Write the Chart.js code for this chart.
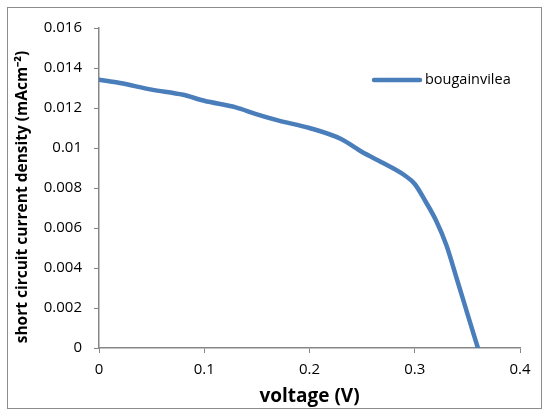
<!DOCTYPE html>
<html>
<head>
<meta charset="utf-8">
<script src="https://cdn.jsdelivr.net/npm/chart.js@4"></script>
<style>
  html, body { margin: 0; padding: 0; background: #fff; }
  #wrap { width: 548px; height: 411px; position: relative; }
</style>
</head>
<body>
<div id="wrap"><canvas id="jscChart" width="548" height="411"></canvas></div>
<script>
// J-V curve data
const seriesName = "bougainvilea";
const voltage = [0, 0.02, 0.05, 0.08, 0.1, 0.13, 0.15, 0.17, 0.2, 0.23, 0.25, 0.27, 0.29, 0.3, 0.31, 0.32, 0.33, 0.34, 0.35, 0.36];
const currentDensity = [0.01342, 0.01325, 0.01292, 0.01266, 0.01236, 0.01203, 0.01168, 0.01138, 0.01100, 0.01045, 0.00980, 0.00925, 0.00865, 0.00820, 0.00735, 0.00640, 0.00515, 0.00345, 0.00172, 0];
const xTickValues = [0, 0.1, 0.2, 0.3, 0.4];
const yTickValues = [0, 0.002, 0.004, 0.006, 0.008, 0.01, 0.012, 0.014, 0.016];
const xTitle = "voltage (V)";
const yTitle = "short circuit current density (mAcm⁻²)";

const AXIS_GRAY = "#868686";
const LINE_BLUE = "#4a7ebb";

/* Outer frame, y title and legend drawn by a small plugin */
const framePlugin = {
  id: "frame",
  beforeDraw(chart) {
    const ctx = chart.ctx;
    ctx.save();
    ctx.fillStyle = "#fff";
    ctx.fillRect(0, 0, chart.width, chart.height);
    ctx.strokeStyle = "#8c8c8c";
    ctx.lineWidth = 1;
    ctx.strokeRect(7.5, 7.5, 534, 401);
    ctx.restore();
  },
  afterDraw(chart) {
    const ctx = chart.ctx;
    const ds = chart.data.datasets[0];
    ctx.save();
    // y axis title (sits a little below the plot centre in the original)
    ctx.translate(23, 197);
    ctx.rotate(-Math.PI / 2);
    ctx.fillStyle = "#000";
    ctx.font = "bold 15.5px 'Open Sans'";
    ctx.textAlign = "center";
    ctx.textBaseline = "middle";
    ctx.fillText(yTitle, 0, 0);
    ctx.restore();

    ctx.save();
    ctx.strokeStyle = ds.borderColor;
    ctx.lineWidth = 4.5;
    ctx.lineCap = "round";
    ctx.beginPath();
    ctx.moveTo(374, 80);
    ctx.lineTo(420, 80);
    ctx.stroke();
    ctx.fillStyle = "#000";
    ctx.font = "14.5px 'Open Sans'";
    ctx.textBaseline = "middle";
    ctx.fillText(ds.label, 425, 80);
    ctx.restore();
  }
};

const ctx = document.getElementById("jscChart").getContext("2d");
new Chart(ctx, {
  type: "scatter",
  data: {
    datasets: [{
      label: seriesName,
      data: voltage.map((v, i) => ({ x: v, y: currentDensity[i] })),
      showLine: true,
      borderColor: LINE_BLUE,
      backgroundColor: LINE_BLUE,
      borderWidth: 4.5,
      pointRadius: 0,
      cubicInterpolationMode: "monotone",
      borderCapStyle: "round",
      borderJoinStyle: "round"
    }]
  },
  options: {
    responsive: false,
    animation: false,
    layout: { padding: { left: 0, right: 28, top: 28, bottom: 0 } },
    plugins: {
      legend: { display: false },
      tooltip: { enabled: false }
    },
    scales: {
      x: {
        type: "linear",
        min: 0,
        max: 0.4,
        afterBuildTicks: s => { s.ticks = xTickValues.map(v => ({ value: v })); },
        afterFit: s => { s.height = 63; },
        grid: { drawOnChartArea: false, color: AXIS_GRAY, tickLength: 5 },
        border: { color: AXIS_GRAY, width: 1.5 },
        ticks: {
          color: "#000",
          padding: 8,
          maxRotation: 0,
          font: { family: "'Open Sans'", size: 15 },
          callback: v => String(v)
        },
        title: {
          display: true,
          text: xTitle,
          color: "#000",
          padding: { top: 0, bottom: 3 },
          font: { family: "'Open Sans'", size: 19, weight: "bold" }
        }
      },
      y: {
        type: "linear",
        min: 0,
        max: 0.016,
        afterBuildTicks: s => { s.ticks = yTickValues.map(v => ({ value: v })); },
        afterFit: s => { s.width = 99; },
        grid: { drawOnChartArea: false, color: AXIS_GRAY, tickLength: 5 },
        border: { color: AXIS_GRAY, width: 1.5 },
        ticks: {
          color: "#000",
          padding: 12,
          font: { family: "'Open Sans'", size: 15 },
          callback: v => String(v)
        },
        title: { display: false }
      }
    }
  },
  plugins: [framePlugin]
});
</script>
</body>
</html>
